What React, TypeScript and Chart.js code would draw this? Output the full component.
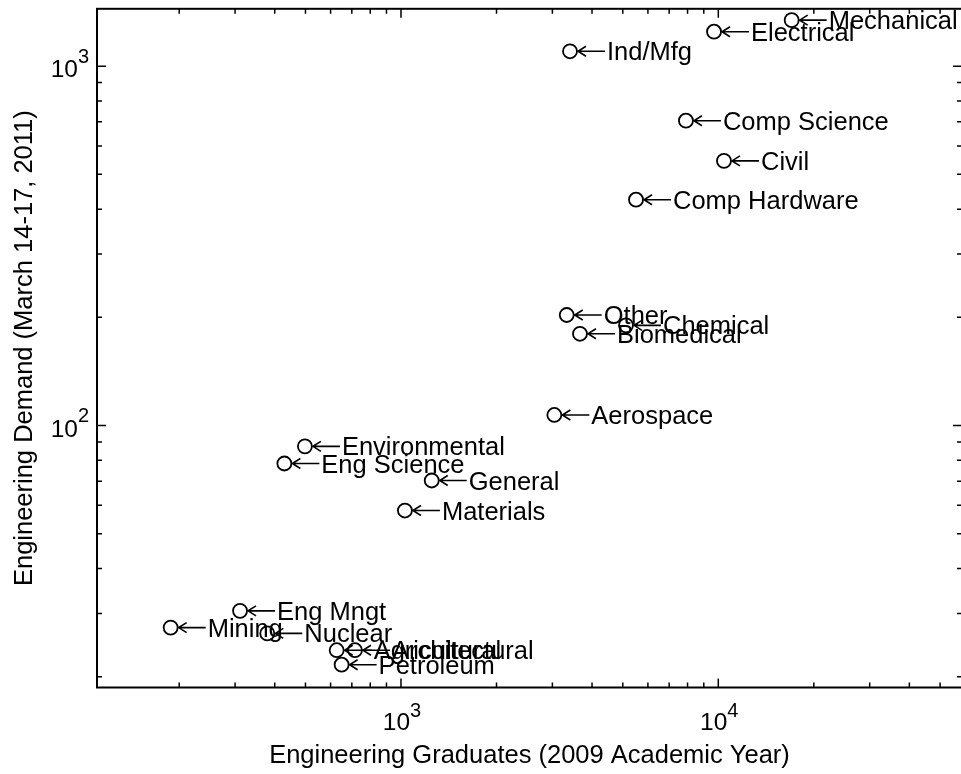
import React, { useEffect, useRef } from "react";
import { Chart, registerables } from "chart.js";

Chart.register(...registerables);

// ---- data ----
const majors = [
  "Mechanical", "Electrical", "Ind/Mfg", "Comp Science", "Civil", "Comp Hardware",
  "Other", "Chemical", "Biomedical", "Aerospace", "Environmental", "Eng Science",
  "General", "Materials", "Eng Mngt", "Mining", "Nuclear", "Agricultural",
  "Architectural", "Petroleum",
];
const graduates = [
  17030, 9694, 3409, 7907, 10420, 5504,
  3329, 5117, 3665, 3043, 498, 429,
  1250, 1029, 311, 188, 379, 627,
  716, 650,
];
const demand = [
  1343, 1247, 1100, 705, 545, 425,
  203, 190, 180, 107, 87.5, 78.4,
  70.3, 58.0, 30.5, 27.4, 26.4, 23.7,
  23.7, 21.6,
];
const xMajorTicks = [1000, 10000];
const xMajorLabels = ["3", "4"];
const yMajorTicks = [100, 1000];
const yMajorLabels = ["2", "3"];
const xTitle = "Engineering Graduates (2009 Academic Year)";
const yTitle = "Engineering Demand (March 14-17, 2011)";

const X_MIN = Math.pow(10, 2.042);
const X_MAX = Math.pow(10, 4.768);
const Y_MIN = Math.pow(10, 1.271);
const Y_MAX = Math.pow(10, 3.1596);

const CW = 985;
const CH = 774;
const FONT = '"Liberation Sans", Arial, Helvetica, sans-serif';

function minorTicks(min: number, max: number): number[] {
  const out: number[] = [];
  for (let e = Math.floor(Math.log10(min)); e <= Math.ceil(Math.log10(max)); e++) {
    for (let m = 2; m <= 9; m++) {
      const v = m * Math.pow(10, e);
      if (v > min && v < max) out.push(v);
    }
  }
  return out;
}

export default function App() {
  const ref = useRef<HTMLCanvasElement>(null);

  useEffect(() => {
    document.body.style.margin = "0";
    const canvas = ref.current;
    if (!canvas) return;

    const plugin = {
      id: "matlabAxes",
      afterDatasetsDraw(chart: any) {
        const ctx: CanvasRenderingContext2D = chart.ctx;
        const { left, right, top, bottom } = chart.chartArea;
        const xs = chart.scales.x;
        const ys = chart.scales.y;
        ctx.save();
        ctx.fillStyle = "#000";
        ctx.strokeStyle = "#000";

        // point labels with arrows
        const meta = chart.getDatasetMeta(0);
        ctx.font = `25.5px ${FONT}`;
        ctx.textAlign = "left";
        ctx.textBaseline = "alphabetic";
        meta.data.forEach((pt: any, i: number) => {
          const x = pt.x;
          const y = pt.y;
          ctx.lineWidth = 1.6;
          ctx.beginPath();
          ctx.moveTo(x + 8, y);
          ctx.lineTo(x + 35, y);
          ctx.moveTo(x + 16, y - 5);
          ctx.lineTo(x + 8, y);
          ctx.lineTo(x + 16, y + 5);
          ctx.stroke();
          ctx.fillText(majors[i], x + 37, y + 9);
        });

        // box
        ctx.lineWidth = 2;
        ctx.strokeRect(left, top, right - left, bottom - top);

        // ticks
        ctx.lineWidth = 1.5;
        const MAJ = 9;
        const MIN = 5;
        const xt = (v: number, len: number) => {
          const px = xs.getPixelForValue(v);
          ctx.beginPath();
          ctx.moveTo(px, bottom);
          ctx.lineTo(px, bottom - len);
          ctx.moveTo(px, top);
          ctx.lineTo(px, top + len);
          ctx.stroke();
        };
        const yt = (v: number, len: number) => {
          const py = ys.getPixelForValue(v);
          ctx.beginPath();
          ctx.moveTo(left, py);
          ctx.lineTo(left + len, py);
          ctx.moveTo(right, py);
          ctx.lineTo(right - len, py);
          ctx.stroke();
        };
        minorTicks(X_MIN, X_MAX).forEach((v) => xt(v, MIN));
        xMajorTicks.forEach((v) => xt(v, MAJ));
        minorTicks(Y_MIN, Y_MAX).forEach((v) => yt(v, MIN));
        yMajorTicks.forEach((v) => yt(v, MAJ));

        // tick labels 10^n
        const baseFont = `24.5px ${FONT}`;
        const supFont = `20px ${FONT}`;
        ctx.textAlign = "left";
        xMajorTicks.forEach((v, i) => {
          const px = xs.getPixelForValue(v);
          ctx.font = baseFont;
          const w10 = ctx.measureText("10").width;
          ctx.font = supFont;
          const ws = ctx.measureText(xMajorLabels[i]).width;
          const sx = px + 1 - (w10 + ws) / 2;
          ctx.font = baseFont;
          ctx.fillText("10", sx, bottom + 42.5);
          ctx.font = supFont;
          ctx.fillText(xMajorLabels[i], sx + w10, bottom + 29);
        });
        yMajorTicks.forEach((v, i) => {
          const py = ys.getPixelForValue(v);
          ctx.font = baseFont;
          const w10 = ctx.measureText("10").width;
          ctx.font = supFont;
          const ws = ctx.measureText(yMajorLabels[i]).width;
          const sx = left - 8 - (w10 + ws);
          ctx.font = baseFont;
          ctx.fillText("10", sx, py + 11);
          ctx.font = supFont;
          ctx.fillText(yMajorLabels[i], sx + w10, py - 3.5);
        });

        // axis titles
        ctx.font = `25.5px ${FONT}`;
        ctx.textAlign = "center";
        ctx.fillText(xTitle, (left + right) / 2, 763);
        ctx.save();
        ctx.translate(31.5, (top + bottom) / 2);
        ctx.rotate(-Math.PI / 2);
        ctx.fillText(yTitle, 0, 0);
        ctx.restore();

        ctx.restore();
      },
    };

    const chart = new Chart(canvas, {
      type: "scatter",
      data: {
        datasets: [
          {
            data: graduates.map((g, i) => ({ x: g, y: demand[i] })),
            pointStyle: "circle",
            pointRadius: 7,
            pointHoverRadius: 7,
            borderColor: "#000",
            borderWidth: 1.8,
            backgroundColor: "rgba(0,0,0,0)",
          },
        ],
      },
      options: {
        responsive: false,
        maintainAspectRatio: false,
        animation: false,
        events: [],
        layout: {
          padding: { left: 97, right: CW - 962, top: 5.5, bottom: CH - 687.5 },
        },
        scales: {
          x: { type: "logarithmic", min: X_MIN, max: X_MAX, display: false },
          y: { type: "logarithmic", min: Y_MIN, max: Y_MAX, display: false },
        },
        plugins: {
          legend: { display: false },
          tooltip: { enabled: false },
        },
      },
      plugins: [plugin],
    } as any);

    return () => chart.destroy();
  }, []);

  return (
    <div style={{ width: 961, height: 774, overflow: "hidden", position: "relative", background: "#fff" }}>
      <canvas ref={ref} width={CW} height={CH} style={{ display: "block", width: CW, height: CH }} />
    </div>
  );
}
